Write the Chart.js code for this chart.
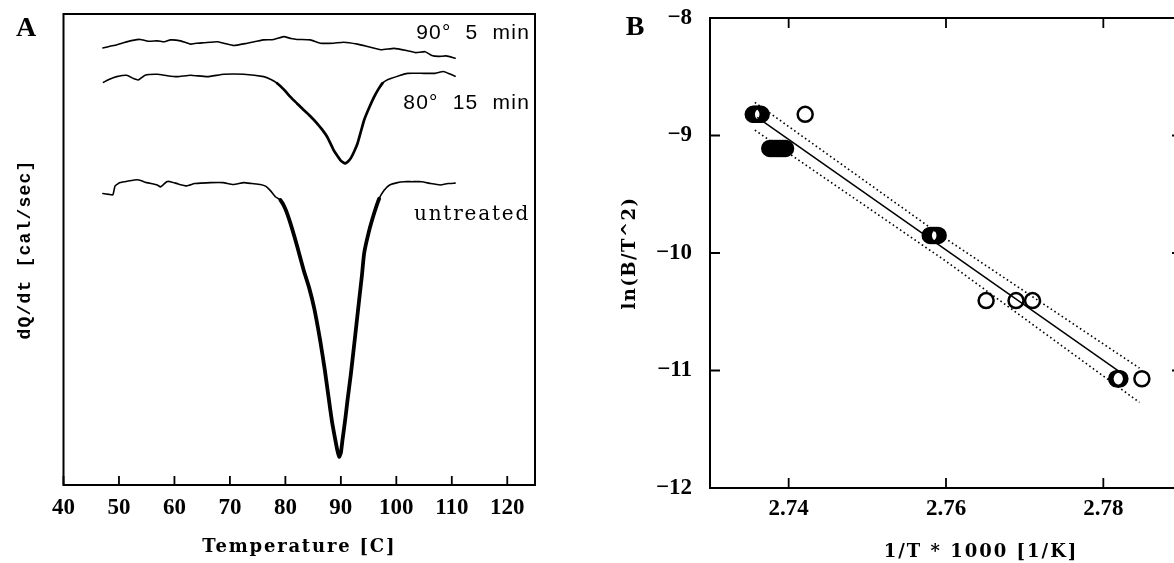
<!DOCTYPE html>
<html><head><meta charset="utf-8">
<script src="https://cdn.jsdelivr.net/npm/chart.js@4.4.1/dist/chart.umd.min.js"></script>
<style>
html,body{margin:0;padding:0;background:#fff;overflow:hidden;width:1174px;height:563px;position:relative;}
#ca{position:absolute;left:0;top:0;}
#cb{position:absolute;left:587px;top:0;}
</style></head><body>
<canvas id="ca" width="587" height="563"></canvas>
<canvas id="cb" width="620" height="563"></canvas>
<script>
// ---------- Panel A data (temperature in C, dQ/dt in arbitrary units) ----------
const temp90 = [47.1, 49.0, 50.8, 52.5, 53.8, 55.5, 56.9, 58.2, 59.3, 61.1, 62.9, 64.0, 65.3, 67.7, 68.9, 70.7, 73.1, 74.8, 76.1, 77.9, 79.7, 81.0, 82.1, 84.5, 86.3, 88.7, 90.5, 93.0, 94.8, 97.2, 99.6, 102.0, 103.5, 105.2, 106.4, 107.6, 109.0, 110.6];
const dq90 = [92.8, 93.3, 93.9, 94.4, 94.6, 94.2, 94.3, 94.1, 94.5, 94.3, 93.6, 93.8, 93.9, 94.1, 93.8, 93.3, 93.8, 94.2, 94.5, 94.6, 95.2, 94.8, 94.6, 94.5, 93.8, 93.8, 94.0, 93.6, 93.1, 92.4, 92.7, 92.2, 91.8, 92.0, 91.2, 91.0, 91.1, 90.6];

const temp80 = [47.2, 48.4, 49.6, 51.4, 52.6, 53.5, 54.7, 56.9, 58.7, 60.5, 62.9, 65.9, 68.9, 72.5, 76.1, 77.4, 78.5, 79.7, 80.9, 82.1, 83.3, 84.5, 85.7, 86.6, 87.5, 88.1, 88.7, 89.3, 89.9, 90.4, 90.8, 91.3, 91.8, 92.4, 93.0, 93.6, 94.2, 95.1, 96.0, 96.8, 97.5, 98.2, 99.0, 100.5, 102.0, 105.0, 107.0, 108.5, 109.6, 110.6];
const dq80 = [85.5, 86.2, 86.7, 87.0, 86.3, 86.0, 87.0, 87.2, 86.9, 86.7, 87.0, 86.7, 87.2, 87.2, 86.7, 86.1, 85.3, 84.0, 82.4, 81.0, 79.6, 78.3, 76.8, 75.5, 74.0, 72.6, 71.1, 70.0, 69.0, 68.5, 68.3, 68.7, 69.4, 70.8, 72.5, 75.0, 77.5, 80.1, 82.4, 84.1, 85.3, 85.9, 86.3, 86.9, 87.4, 87.4, 87.4, 87.8, 87.3, 86.8];

const tempUn = [47.1, 48.2, 48.9, 49.3, 50.2, 51.5, 53.4, 55.0, 56.9, 57.5, 58.6, 59.3, 60.7, 62.2, 63.6, 64.7, 66.5, 68.8, 70.6, 72.5, 74.0, 75.5, 76.5, 77.3, 78.2, 79.1, 80.0, 80.9, 82.1, 83.3, 84.3, 85.2, 86.3, 87.1, 87.8, 88.4, 89.0, 89.4, 89.7, 90.0, 90.3, 90.8, 91.2, 91.8, 92.3, 92.8, 93.3, 93.8, 94.2, 95.1, 96.0, 96.9, 97.8, 98.8, 100.2, 101.4, 102.8, 104.6, 106.2, 107.9, 109.3, 110.6];
const dqUn = [61.9, 61.7, 61.6, 63.5, 64.2, 64.5, 64.8, 64.2, 63.7, 63.3, 64.4, 64.4, 63.9, 63.5, 64.0, 64.1, 64.2, 64.2, 63.8, 64.2, 64.0, 63.8, 63.4, 62.5, 61.2, 60.5, 58.6, 55.6, 50.8, 45.6, 41.8, 37.5, 30.5, 24.5, 18.5, 13.5, 9.6, 7.2, 6.0, 6.8, 9.6, 14.0, 18.0, 23.5, 28.7, 34.0, 39.3, 44.5, 49.2, 54.0, 57.7, 60.8, 62.6, 63.7, 64.2, 64.4, 64.4, 64.4, 64.0, 63.7, 64.0, 64.1];

const xTicksA = [40, 50, 60, 70, 80, 90, 100, 110, 120];
const curveLabelsA = ['90°  5  min', '80°  15  min', 'untreated'];

// ---------- Panel B data ----------
const invT = [2.7355, 2.7357, 2.7359, 2.7361, 2.7363, 2.7365, 2.7421,
              2.7376, 2.7378, 2.7380, 2.7382, 2.7384, 2.7386, 2.7388, 2.7390, 2.7392, 2.7394, 2.7396,
              2.7580, 2.7582, 2.7584, 2.7586, 2.7588, 2.7590,
              2.7651, 2.7689, 2.7710,
              2.7817, 2.7819, 2.7821, 2.7849];
const lnBT2 = [-8.82, -8.82, -8.82, -8.82, -8.82, -8.82, -8.82,
               -9.11, -9.11, -9.11, -9.11, -9.11, -9.11, -9.11, -9.11, -9.11, -9.11, -9.11,
               -9.85, -9.85, -9.85, -9.85, -9.85, -9.85,
               -10.405, -10.405, -10.405,
               -11.07, -11.07, -11.07, -11.07];
const fitX = [2.7360, 2.7820];
const fitY = [-8.846, -11.008];
const upperX = [2.7357, 2.7600, 2.7846];
const upperY = [-8.718, -9.880, -10.980];
const lowerX = [2.7357, 2.7600, 2.7846];
const lowerY = [-8.954, -10.070, -11.272];
const xTicksB = [2.74, 2.76, 2.78];
const yTicksB = [-8, -9, -10, -11, -12];

// ---------- helpers ----------
const pts = (xs, ys) => xs.map((x, i) => ({x: x, y: ys[i]}));
function patchTitle(scale, ls, dx) {
  if (scale._patched) return;
  scale._patched = true;
  const orig = scale.drawTitle;
  scale.drawTitle = function () {
    const c = this.ctx; c.save();
    c.letterSpacing = ls + 'px';
    c.translate(dx || 0, 0);
    orig.call(this);
    c.restore();
  };
}
function noPad(s) { s.paddingTop = 0; s.paddingBottom = 0; s.paddingLeft = 0; s.paddingRight = 0; }
const framePlugin = {
  id: 'frame',
  afterDatasetsDraw(chart, args, o) {
    const {ctx, chartArea: a, scales} = chart;
    ctx.save();
    ctx.strokeStyle = '#000';
    ctx.lineWidth = 2;
    ctx.strokeRect(a.left, a.top, a.right - a.left, a.bottom - a.top);
    ctx.lineWidth = 1.8;
    ctx.beginPath();
    const L = o.len || 9;
    (o.xTicks || []).forEach(v => {
      const x = scales.x.getPixelForValue(v);
      if (o.bottom) { ctx.moveTo(x, a.bottom); ctx.lineTo(x, a.bottom - L); }
      if (o.top) { ctx.moveTo(x, a.top); ctx.lineTo(x, a.top + L); }
    });
    (o.yTicks || []).forEach(v => {
      const y = scales.y.getPixelForValue(v);
      if (o.left) { ctx.moveTo(a.left, y); ctx.lineTo(a.left + L, y); }
      if (o.right) { ctx.moveTo(a.right, y); ctx.lineTo(a.right - L, y); }
    });
    ctx.stroke();
    ctx.restore();
  }
};
const textPlugin = {
  id: 'texts',
  afterDraw(chart, args, o) {
    const ctx = chart.ctx;
    (o.items || []).forEach(it => {
      ctx.save();
      ctx.font = it.font;
      ctx.fillStyle = '#000';
      ctx.letterSpacing = (it.ls || 0) + 'px';
      ctx.textAlign = it.align || 'center';
      ctx.textBaseline = 'middle';
      const x = it.dataX !== undefined ? chart.scales.x.getPixelForValue(it.dataX) : it.x;
      const y = it.dataY !== undefined ? chart.scales.y.getPixelForValue(it.dataY) : it.y;
      ctx.fillText(it.text, x, y);
      ctx.restore();
    });
  }
};
const tickFont = {family: 'Liberation Serif', weight: 'bold', size: 23};
const titleFont = {family: 'DejaVu Serif', weight: 'bold', size: 18};

function dscSet(label, xs, ys, thr, thick) {
  return {
    label: label, data: pts(xs, ys), showLine: true, pointRadius: 0,
    borderColor: '#000', backgroundColor: '#000', borderWidth: 1.6,
    borderCapStyle: 'round', borderJoinStyle: 'round', tension: 0.15,
    segment: { borderWidth: c => Math.min(c.p0.parsed.y, c.p1.parsed.y) < thr ? thick : 1.6 }
  };
}

// ---------- Panel A ----------
new Chart(document.getElementById('ca'), {
  type: 'scatter',
  data: { datasets: [
    dscSet(curveLabelsA[0], temp90, dq90, -1, 1.6),
    dscSet(curveLabelsA[1], temp80, dq80, 85, 2.7),
    dscSet(curveLabelsA[2], tempUn, dqUn, 59, 3.8)
  ]},
  options: {
    responsive: false, animation: false, devicePixelRatio: 1,
    layout: { padding: {left: 0, right: 52, top: 14, bottom: 0} },
    plugins: {
      legend: {display: false}, tooltip: {enabled: false},
      frame: {xTicks: xTicksA, bottom: true, len: 9},
      texts: { items: [
        {text: 'A', font: 'bold 28px "Liberation Serif"', x: 26, y: 29},
        {text: curveLabelsA[0], font: '21px "Liberation Sans"', ls: 1.2, align: 'right', dataX: 124.1, dataY: 96.0},
        {text: curveLabelsA[1], font: '21px "Liberation Sans"', ls: 1.2, align: 'right', dataX: 124.1, dataY: 81.1},
        {text: curveLabelsA[2], font: '20px "DejaVu Serif"', ls: 1.8, align: 'right', dataX: 124.1, dataY: 57.3}
      ]}
    },
    scales: {
      x: {
        type: 'linear', min: 40, max: 125,
        grid: {display: false, drawTicks: false}, border: {display: false},
        afterBuildTicks: s => { s.ticks = xTicksA.map(v => ({value: v})); },
        ticks: {font: tickFont, color: '#000', padding: 9, maxRotation: 0, autoSkip: false},
        title: {display: true, text: 'Temperature [C]', font: titleFont, color: '#000', padding: {top: 0, bottom: 5}},
        afterFit: s => { s.height = 78; noPad(s); patchTitle(s, 1.8, 0); }
      },
      y: {
        type: 'linear', min: 0, max: 100,
        grid: {display: false, drawTicks: false}, border: {display: false},
        ticks: {display: false},
        title: {display: true, text: 'dQ/dt [cal/sec]', font: {family: 'Liberation Mono', weight: 'bold', size: 18}, color: '#000', padding: {top: 15, bottom: 0}},
        afterFit: s => { s.width = 63.5; noPad(s); patchTitle(s, 1.2, 0); }
      }
    }
  },
  plugins: [framePlugin, textPlugin]
});

// ---------- Panel B ----------
new Chart(document.getElementById('cb'), {
  type: 'scatter',
  data: { datasets: [
    {label: 'data', data: pts(invT, lnBT2), showLine: false, pointRadius: 7.5, pointBorderWidth: 2.5,
     borderColor: '#000', backgroundColor: 'rgba(0,0,0,0)', pointBackgroundColor: 'rgba(0,0,0,0)'},
    {label: 'fit', data: pts(fitX, fitY), showLine: true, pointRadius: 0, borderColor: '#000', borderWidth: 1.5},
    {label: 'upper', data: pts(upperX, upperY), showLine: true, pointRadius: 0, borderColor: '#000', borderWidth: 1.6, borderDash: [1.6, 2.8]},
    {label: 'lower', data: pts(lowerX, lowerY), showLine: true, pointRadius: 0, borderColor: '#000', borderWidth: 1.6, borderDash: [1.6, 2.8]}
  ]},
  options: {
    responsive: false, animation: false, devicePixelRatio: 1,
    layout: { padding: {left: 0, right: 25, top: 18, bottom: 0} },
    plugins: {
      legend: {display: false}, tooltip: {enabled: false},
      frame: {xTicks: xTicksB, yTicks: yTicksB, bottom: true, top: true, left: true, right: true, len: 10},
      texts: { items: [
        {text: 'B', font: 'bold 28px "Liberation Serif"', x: 48, y: 28}
      ]}
    },
    scales: {
      x: {
        type: 'linear', min: 2.73, max: 2.79,
        grid: {display: false, drawTicks: false}, border: {display: false},
        afterBuildTicks: s => { s.ticks = xTicksB.map(v => ({value: v})); },
        ticks: {font: tickFont, color: '#000', padding: 7, maxRotation: 0, autoSkip: false, callback: v => v.toFixed(2)},
        title: {display: true, text: '1/T * 1000 [1/K]', font: titleFont, color: '#000', padding: {top: 0, bottom: 0}},
        afterFit: s => { s.height = 75; noPad(s); patchTitle(s, 2, 35); }
      },
      y: {
        type: 'linear', min: -12, max: -8,
        grid: {display: false, drawTicks: false}, border: {display: false},
        afterBuildTicks: s => { s.ticks = yTicksB.map(v => ({value: v})); },
        ticks: {font: tickFont, color: '#000', padding: 18, autoSkip: false, callback: v => '\u2212' + Math.abs(v)},
        title: {display: true, text: 'ln(B/T^2)', font: titleFont, color: '#000', padding: {top: 33, bottom: 0}},
        afterFit: s => { s.width = 123; noPad(s); patchTitle(s, 1.5, 0); }
      }
    }
  },
  plugins: [framePlugin, textPlugin]
});
</script>
</body></html>
